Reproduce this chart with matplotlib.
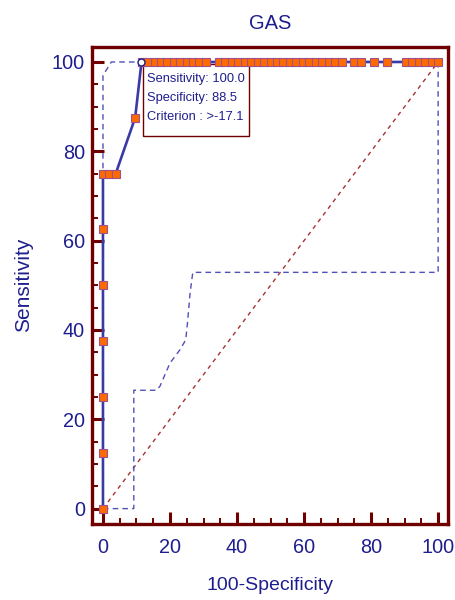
import matplotlib
matplotlib.use("Agg")
import matplotlib.pyplot as plt
from matplotlib.patches import Rectangle
from matplotlib.ticker import MultipleLocator

# ROC points (100-Specificity, Sensitivity)
roc_x = [0, 0, 0, 0, 0, 0, 0, 1.9, 3.8, 9.6, 11.5,
         13.5, 15.4, 17.3, 19.2, 21.2, 23.1, 25.0, 26.9, 28.8, 30.8,
         34.6, 36.5, 38.5, 40.4, 42.3, 44.2, 46.2, 48.1, 50.0, 51.9,
         53.8, 55.8, 57.7, 59.6, 61.5, 63.5, 65.4, 67.3, 69.2, 71.2,
         75.0, 76.9, 80.8, 84.6, 90.4, 92.3, 94.2, 96.2, 98.1, 100.0]
roc_y = [0, 12.5, 25, 37.5, 50, 62.5, 75, 75, 75, 87.5, 100] + [100] * 40

# optimal criterion point
crit_x = 11.2
crit_y = 100.0

# confidence bounds
upper_x = [0, 0, 2.5, 100]
upper_y = [0, 97, 100, 100]
lower_x = [0, 9.2, 9.2, 16.0, 17.0, 20.0, 23.0, 24.7, 25.2, 26.0, 26.8, 100, 100]
lower_y = [0, 0, 26.5, 26.5, 27.4, 32.6, 35.6, 37.8, 41.5, 48.3, 52.9, 52.9, 100]

ref_x = [0, 100]
ref_y = [0, 100]

box_lines = ["Sensitivity: 100.0", "Specificity: 88.5", "Criterion : >-17.1"]

navy = "#1e1e8e"
dark_red = "#700000"
plt.rcParams["font.family"] = ["Liberation Sans", "DejaVu Sans"]

fig = plt.figure(figsize=(4.55, 6), dpi=100)
ax = fig.add_axes([0.202, 0.127, 0.783, 0.795])

ax.plot(ref_x, ref_y, color="#a83232", lw=1.0, ls=(0, (3, 3)))
ax.plot(lower_x, lower_y, color="#5050b8", lw=1.0, ls=(0, (4, 3)))
ax.plot(upper_x, upper_y, color="#5050b8", lw=1.0, ls=(0, (4, 3)))
ax.plot(roc_x, roc_y, color="#3a3aa6", lw=1.9, marker="s", ms=5.2,
        mfc="#ff6a00", mec="#a0508a", mew=0.8, zorder=3)
ax.plot([crit_x], [crit_y], marker="o", ms=5, mfc="white", mec=navy,
        mew=1.0, ls="none", zorder=4)

# info box (sits just under the top row of markers)
ax.add_patch(Rectangle((11.9, 83.4), 31.7, 16.2, fc="white", ec=dark_red,
                       lw=1.0, zorder=2.5))
ax.text(13.1, 92.0, "\n".join(box_lines), color=navy, fontsize=9.3,
        va="center", ha="left", linespacing=1.8, zorder=6)

ax.set_xlim(-3.3, 103)
ax.set_ylim(-3.4, 103.4)
ax.xaxis.set_major_locator(MultipleLocator(20))
ax.yaxis.set_major_locator(MultipleLocator(20))
ax.xaxis.set_minor_locator(MultipleLocator(5))
ax.yaxis.set_minor_locator(MultipleLocator(5))

for s in ax.spines.values():
    s.set_color(dark_red)
    s.set_linewidth(2.4)

ax.tick_params(which="major", direction="in", length=8.5, width=2.2,
               color=dark_red, labelcolor=navy, labelsize=14.3)
ax.tick_params(which="minor", direction="in", length=4.5, width=1.4,
               color=dark_red)
ax.tick_params(axis="x", which="major", pad=10)
ax.tick_params(axis="y", which="major", pad=5)

ax.set_title("GAS", color=navy, fontsize=14.5, pad=13)
ax.set_xlabel("100-Specificity", color=navy, fontsize=14)
ax.set_ylabel("Sensitivity", color=navy, fontsize=15)
ax.xaxis.set_label_coords(0.5, -0.111)
ax.yaxis.set_label_coords(-0.166, 0.5)

fig.savefig("out.png", dpi=100)
